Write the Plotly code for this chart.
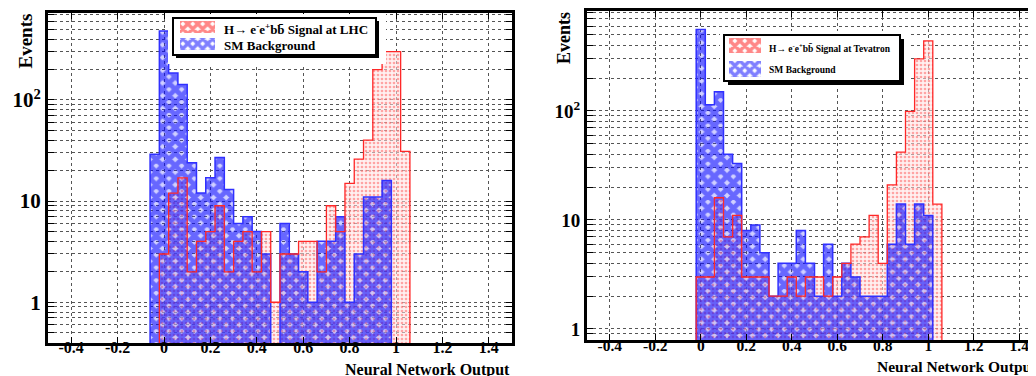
import plotly.graph_objects as go

# ---------------- data ----------------
# Left panel (LHC): 28 bins of width 0.04 starting at -0.06
lhc_edge0 = -0.06
bin_w = 0.04
lhc_signal = [0, 3, 12, 17, 2, 4, 5, 9, 2, 4, 5, 2, 5, 1, 3, 3, 4, 4, 2, 9, 5, 15, 26, 40, 200, 300, 300, 31]
lhc_bkg = [29, 480, 185, 142, 24, 12, 17, 27, 13, 6, 7, 5, 3, 0, 6, 3, 2, 1, 4, 4, 7, 1, 3, 11, 11, 16, 0, 0]

# Right panel (Tevatron): 27 bins of width 0.04 starting at -0.02
tev_edge0 = -0.02
tev_signal = [3, 3, 16, 7, 11, 3, 3, 3, 2, 2, 3, 2, 3, 3, 2, 3, 4, 6, 7, 11, 4, 21, 42, 99, 300, 440, 14]
tev_bkg = [560, 114, 150, 40, 33, 8, 9, 5, 2, 4, 4, 8, 4, 2, 6, 2, 4, 3, 2, 2, 2, 6, 14, 6, 14, 11, 0]

x_tick_vals = [-0.4, -0.2, 0, 0.2, 0.4, 0.6, 0.8, 1, 1.2, 1.4]
x_tick_text = ["-0.4", "-0.2", "0", "0.2", "0.4", "0.6", "0.8", "1", "1.2", "1.4"]

lhc_label = "H\u2192 e<sup>-</sup>e<sup>+</sup>bb\u0304 Signal at LHC"
tev_label = "H\u2192 e<sup>-</sup>e<sup>+</sup>bb\u0304 Signal at Tevatron"
bkg_label = "SM Background"

FONT = "Liberation Serif"
W, H = 1036, 376

RED_FILL = dict(color="rgba(255,215,215,0.55)", line=dict(width=0),
                pattern=dict(shape=".", fgcolor="rgba(255,70,70,0.9)",
                             bgcolor="rgba(255,228,228,0.55)", size=4, solidity=0.35))
BLUE_FILL = dict(color="rgba(0,0,255,0)", line=dict(width=0),
                 pattern=dict(shape="x", fgcolor="#0000ff",
                              bgcolor="rgba(40,40,255,0.22)", size=9, solidity=0.8))


def centers(e0, n):
    return [e0 + bin_w * (i + 0.5) for i in range(n)]


def step_xy(e0, vals, bot):
    n = len(vals)
    xs = [e0] + [e0 + bin_w * i for i in range(n)] + [e0 + bin_w * n, e0 + bin_w * n]
    vv = [v if v > 0 else bot for v in vals]
    ys = [bot] + vv + [vv[-1], bot]
    return xs, ys


fig = go.Figure()


def add_panel(e0, sig, bkg, xa, ya):
    n = len(sig)
    xc = centers(e0, n)
    fig.add_trace(go.Bar(x=xc, y=[v if v > 0 else None for v in sig], width=bin_w,
                         xaxis=xa, yaxis=ya, marker=RED_FILL, showlegend=False))
    fig.add_trace(go.Bar(x=xc, y=[v if v > 0 else None for v in bkg], width=bin_w,
                         xaxis=xa, yaxis=ya, marker=BLUE_FILL, showlegend=False))
    bx, by = step_xy(e0, bkg, 0.01)
    fig.add_trace(go.Scatter(x=bx, y=by, mode="lines", line=dict(color="#3030ff", width=1.5, shape="hv"),
                             showlegend=False, xaxis=xa, yaxis=ya, hoverinfo="skip"))
    sx, sy = step_xy(e0, sig, 0.01)
    fig.add_trace(go.Scatter(x=sx, y=sy, mode="lines", line=dict(color="#ff2828", width=1.3, shape="hv"),
                             showlegend=False, xaxis=xa, yaxis=ya, hoverinfo="skip"))


add_panel(lhc_edge0, lhc_signal, lhc_bkg, "x", "y")
add_panel(tev_edge0, tev_signal, tev_bkg, "x2", "y2")


# ---------------- hand-drawn legends (pixel units in their own overlay axes) ----------------
def box_bar(x0, y0, x1, y1, marker, xa, ya):
    return go.Bar(x=[(x0 + x1) / 2], y=[y1 - y0], base=[y0], width=[x1 - x0],
                  xaxis=xa, yaxis=ya, showlegend=False, hoverinfo="skip", marker=marker)


def add_legend(box, shadow, red_patch, blue_patch, text_x, red_y, blue_y, sig_text, fsize, xa, ya):
    fig.add_trace(box_bar(*shadow, dict(color="black", line=dict(width=0)), xa, ya))
    fig.add_trace(box_bar(*box, dict(color="white", line=dict(color="black", width=2)), xa, ya))
    for patch, fg in [(red_patch, "#ff1010"), (blue_patch, "#0000ff")]:
        fig.add_trace(box_bar(*patch, dict(color="white", line=dict(width=0),
                                           pattern=dict(shape="x", fgcolor=fg, bgcolor="white",
                                                        size=7, solidity=0.75)), xa, ya))
    for txt, yy in [(sig_text, red_y), (bkg_label, blue_y)]:
        fig.add_annotation(text=txt, xref=xa, yref=ya, x=text_x, y=yy, xanchor="left",
                           yanchor="middle", showarrow=False,
                           font=dict(family=FONT, size=fsize, color="black", weight="bold"))


add_legend((165, 10, 368, 47), (168, 13, 371, 50), (172, 13, 207, 25), (172, 30, 207, 42),
           214, 21, 37, lhc_label, 13, "x3", "y3")
add_legend((716, 27, 892, 73), (720, 31, 896, 77), (721, 30, 753, 45), (721, 53, 753, 69),
           759, 40, 62, tev_label, 9.5, "x4", "y4")

# log tick values with labels only at decades
ytv, ytt = [], []
for dec in [0.1, 1, 10, 100]:
    for m in range(1, 10):
        ytv.append(m * dec)
        if m == 1 and dec == 1:
            ytt.append("1")
        elif m == 1 and dec == 10:
            ytt.append("10")
        elif m == 1 and dec == 100:
            ytt.append("10<sup>2</sup>")
        else:
            ytt.append("")

ax_common = dict(showline=True, linecolor="black", linewidth=3, mirror="allticks",
                 ticks="inside", ticklen=6, tickcolor="black",
                 showgrid=True, gridcolor="#555", griddash="dot", gridwidth=1, zeroline=False)

hidden = dict(visible=False, showgrid=False, zeroline=False, fixedrange=True)

fig.update_layout(
    width=W, height=H, margin=dict(l=0, r=0, t=0, b=0),
    paper_bgcolor="white", plot_bgcolor="white", barmode="overlay", bargap=0,
    showlegend=False,
    xaxis=dict(domain=[40 / W, 504 / W], range=[-0.5, 1.5], tickvals=x_tick_vals, ticktext=x_tick_text,
               anchor="y", ticklabelstandoff=-12,
               tickfont=dict(family=FONT, size=16, color="black", weight="bold"), **ax_common),
    yaxis=dict(domain=[1 - 335 / H, 1 - 5 / H], type="log", range=[-0.403, 2.86], tickvals=ytv, ticktext=ytt,
               anchor="x", tickfont=dict(family=FONT, size=21, color="black", weight="bold"), **ax_common),
    xaxis2=dict(domain=[579 / W, 1034 / W], range=[-0.5, 1.5], tickvals=x_tick_vals, ticktext=x_tick_text,
                anchor="y2", ticklabelstandoff=-11,
                tickfont=dict(family=FONT, size=15.5, color="black", weight="bold"), **ax_common),
    yaxis2=dict(domain=[1 - 332 / H, 1 - 3 / H], type="log", range=[-0.101, 2.917], tickvals=ytv, ticktext=ytt,
                anchor="x2", tickfont=dict(family=FONT, size=19, color="black", weight="bold"), **ax_common),
    xaxis3=dict(domain=[160 / W, 378 / W], range=[160, 378], anchor="y3", **hidden),
    yaxis3=dict(domain=[1 - 56 / H, 1 - 6 / H], range=[56, 6], anchor="x3", **hidden),
    xaxis4=dict(domain=[712 / W, 900 / W], range=[712, 900], anchor="y4", **hidden),
    yaxis4=dict(domain=[1 - 80 / H, 1 - 23 / H], range=[80, 23], anchor="x4", **hidden),
)

# axis titles
fig.add_annotation(text="Events", xref="paper", yref="paper", x=17 / W, y=1 - 4 / H,
                   xanchor="center", yanchor="top", textangle=-90, showarrow=False,
                   font=dict(family=FONT, size=19, color="black", weight="bold"))
fig.add_annotation(text="Neural Network Output", xref="paper", yref="paper", x=504 / W, y=1 - 362 / H,
                   xanchor="right", yanchor="middle", showarrow=False,
                   font=dict(family=FONT, size=16, color="black", weight="bold"))
fig.add_annotation(text="Events", xref="paper", yref="paper", x=556 / W, y=1 - 2 / H,
                   xanchor="center", yanchor="top", textangle=-90, showarrow=False,
                   font=dict(family=FONT, size=18, color="black", weight="bold"))
fig.add_annotation(text="Neural Network Output", xref="paper", yref="paper", x=1031 / W, y=1 - 358 / H,
                   xanchor="right", yanchor="middle", showarrow=False,
                   font=dict(family=FONT, size=15.5, color="black", weight="bold"))

fig.write_html("out.html")
